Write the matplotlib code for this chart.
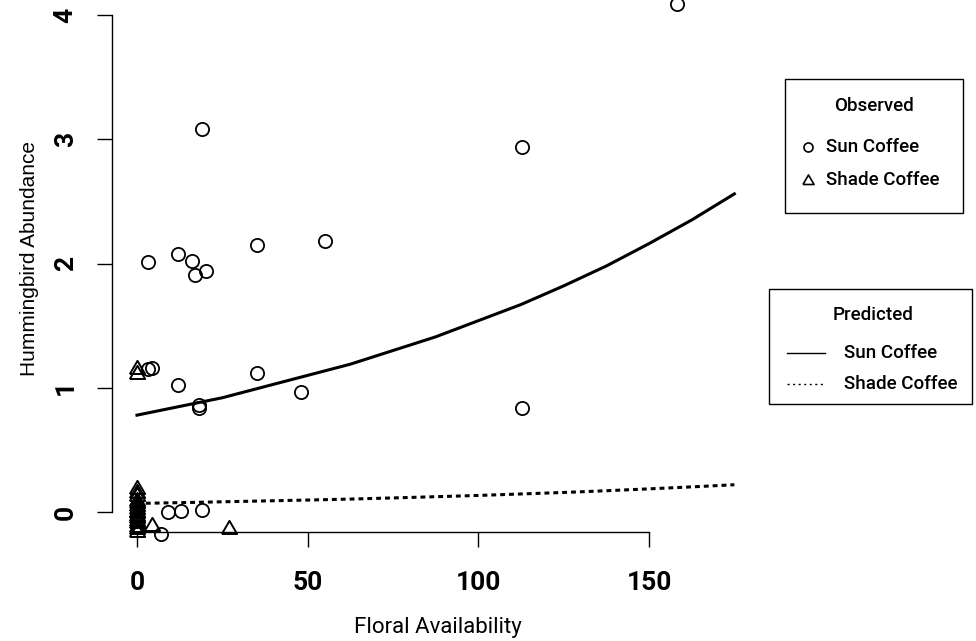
import matplotlib
matplotlib.use('Agg')
import matplotlib.pyplot as plt
from matplotlib.patches import Rectangle
from matplotlib.lines import Line2D

plt.rcParams['font.family'] = ['Roboto', 'DejaVu Sans']

# observed: sun coffee sites (circles)
sun_x = [158.2, 19.1, 112.8, 3.1, 12.1, 16.1, 17.1, 20.1, 35.1, 55.1,
         3.2, 4.4, 12.0, 18.2, 18.3, 35.2, 48.0, 112.8, 9.1, 12.9, 19.0, 7.0]
sun_y = [4.09, 3.08, 2.94, 2.01, 2.08, 2.02, 1.91, 1.94, 2.15, 2.18,
         1.15, 1.16, 1.02, 0.86, 0.84, 1.12, 0.97, 0.84, 0.0, 0.01, 0.02, -0.18]

# observed: shade coffee sites (triangles), many jittered zeros stacked at x = 0
shade_x = [0, 0, 4.4, 27.0, 0, 0, 0, 0, 0, 0, 0, 0, 0, 0, 0, 0, 0, 0, 0, 0]
shade_y = [1.16, 1.12, -0.10, -0.13, 0.19, 0.16, 0.14, 0.10, 0.08, 0.06, 0.03,
           0.01, 0.0, -0.02, -0.04, -0.06, -0.08, -0.11, -0.13, -0.15]

# predicted curves
pred_x = [0, 12.5, 25, 37.5, 50, 62.5, 75, 87.5, 100, 112.5, 125, 137.5, 150, 162.5, 175]
pred_sun = [0.78, 0.85, 0.92, 1.01, 1.10, 1.19, 1.30, 1.41, 1.54, 1.67, 1.82, 1.98, 2.16, 2.35, 2.56]
pred_shade = [0.070, 0.076, 0.083, 0.090, 0.097, 0.105, 0.114, 0.124, 0.134,
              0.146, 0.158, 0.172, 0.187, 0.203, 0.220]

# R-like open triangle (equilateral)
tri = [(-1, -0.72), (1, -0.72), (0, 1.0), (-1, -0.72)]

W, H = 976, 641
fig = plt.figure(figsize=(W / 100, H / 100), dpi=100)
# plot region (R style), slightly taller than the figure at the top
left, right, top, bottom = 112.4, 776, -5, 532
ax = fig.add_axes([left / W, 1 - bottom / H, (right - left) / W, (bottom - top) / H])
ax.set_xlim(-7.2, 187.2)
ax.set_ylim(-0.16, 4.16)

ax.plot(sun_x, sun_y, 'o', ms=9.5, mfc='none', mec='black', mew=1.3, clip_on=False)
ax.plot(shade_x, shade_y, marker=tri, ls='none', ms=11, mfc='none', mec='black',
        mew=1.4, clip_on=False)
ax.plot(pred_x, pred_sun, '-', color='black', lw=2.2)
ax.plot(pred_x, pred_shade, color='black', lw=2.2, linestyle=(0, (1.6, 1.3)),
        dash_capstyle='butt')

for s in ['top', 'right']:
    ax.spines[s].set_visible(False)
ax.spines['left'].set_bounds(0, 4)
ax.spines['bottom'].set_bounds(0, 150)
for s in ['left', 'bottom']:
    ax.spines[s].set_linewidth(1.0)

ax.set_xticks([0, 50, 100, 150])
ax.set_yticks([0, 1, 2, 3, 4])
ax.tick_params(axis='both', direction='out', length=11, width=1.0, labelsize=19)
ax.tick_params(axis='x', pad=17)
ax.tick_params(axis='y', pad=14)
for lab in ax.get_xticklabels():
    lab.set_fontweight('bold')
for lab in ax.get_yticklabels():
    lab.set_fontweight('bold')
    lab.set_rotation(90)
    lab.set_va('center')

fig.text(438 / W, 1 - 628 / H, 'Floral Availability', ha='center', va='center', fontsize=16)
fig.text(30 / W, 1 - 259 / H, 'Hummingbird Abundance', ha='center', va='center',
         rotation=90, fontsize=15, family=['Liberation Sans', 'DejaVu Sans'])

# legend boxes
def fx(px):
    return px / W

def fy(py):
    return 1 - py / H

lfs = 13.5
fig.add_artist(Rectangle((fx(785), fy(213)), fx(963) - fx(785), fy(79) - fy(213),
                         transform=fig.transFigure, fill=False, ec='black', lw=1.0))
fig.text(fx(874), fy(106), 'Observed', ha='center', va='center', fontsize=lfs, fontweight='medium')
fig.add_artist(Line2D([fx(808)], [fy(147)], marker='o', ms=6.5, mfc='none', mec='black',
                      mew=1.2, transform=fig.transFigure))
fig.add_artist(Line2D([fx(808)], [fy(180)], marker=tri, ms=8, mfc='none', mec='black',
                      mew=1.2, transform=fig.transFigure))
fig.text(fx(826), fy(147), 'Sun Coffee', ha='left', va='center', fontsize=lfs, fontweight='medium')
fig.text(fx(826), fy(180), 'Shade Coffee', ha='left', va='center', fontsize=lfs, fontweight='medium')

fig.add_artist(Rectangle((fx(769), fy(404)), fx(972) - fx(769), fy(289) - fy(404),
                         transform=fig.transFigure, fill=False, ec='black', lw=1.0))
fig.text(fx(873), fy(315), 'Predicted', ha='center', va='center', fontsize=lfs, fontweight='medium')
fig.add_artist(Line2D([fx(787), fx(825)], [fy(353), fy(353)], color='black', lw=1.0,
                      transform=fig.transFigure))
fig.add_artist(Line2D([fx(787), fx(825)], [fy(384), fy(384)], color='black', lw=1.0,
                      linestyle=(0, (1.5, 2.5)), transform=fig.transFigure))
fig.text(fx(844), fy(353), 'Sun Coffee', ha='left', va='center', fontsize=lfs, fontweight='medium')
fig.text(fx(844), fy(384), 'Shade Coffee', ha='left', va='center', fontsize=lfs, fontweight='medium')

fig.savefig('out.png', dpi=100)
